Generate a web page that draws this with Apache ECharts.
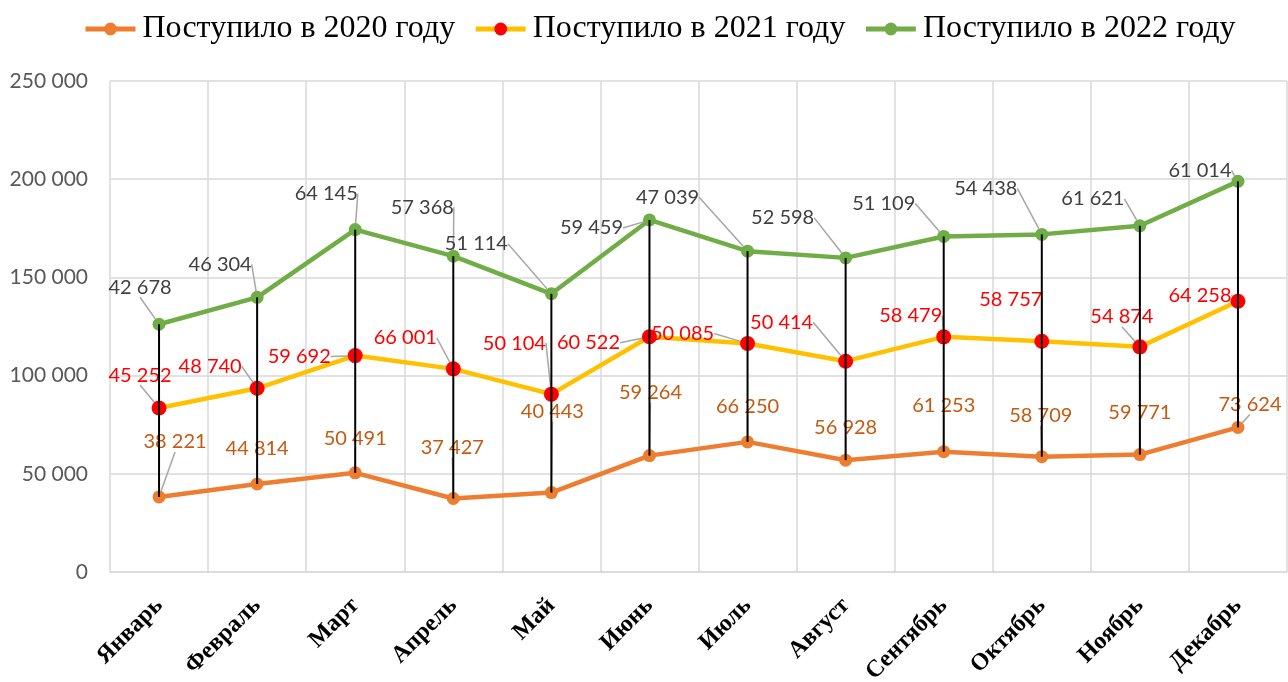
<!DOCTYPE html>
<html>
<head>
<meta charset="utf-8">
<script src="https://cdn.jsdelivr.net/npm/echarts@6/dist/echarts.min.js"></script>
<style>
  html, body { margin: 0; padding: 0; background: #fff; }
  #chart { width: 1288px; height: 682px; }
</style>
</head>
<body>
<div id="chart"></div>
<script>
// данные
const months = ['Январь', 'Февраль', 'Март', 'Апрель', 'Май', 'Июнь', 'Июль', 'Август', 'Сентябрь', 'Октябрь', 'Ноябрь', 'Декабрь']
const y2020 = [38221, 44814, 50491, 37427, 40443, 59264, 66250, 56928, 61253, 58709, 59771, 73624]
const y2021 = [45252, 48740, 59692, 66001, 50104, 60522, 50085, 50414, 58479, 58757, 54874, 64258]
const y2022 = [42678, 46304, 64145, 57368, 51114, 59459, 47039, 52598, 51109, 54438, 61621, 61014]
const names = ['Поступило в 2020 году', 'Поступило в 2021 году', 'Поступило в 2022 году']

// смещения подписей (dx, dy) относительно точки
const off2020 = [[16, -55], [0, -35], [0, -34], [-1, -51], [1, -81], [1, -63], [0, -35], [0, -33], [0, -46], [-1, -41], [0, -42], [12, -23]]
const off2021 = [[-19, -33], [-47, -22], [-56, 1], [-48, -31], [-37, -51], [-61, 6], [-65, -10], [-64, -39], [-33, -21], [-31, -42], [-18, -30], [-38, -6]]
const off2022 = [[-19, -37], [-37, -33], [-29, -36], [-31, -49], [-75, -50], [-58, 8], [-80, -54], [-63, -40], [-60, -33], [-56, -46], [-47, -27], [-38, -11]]

const fmt = v => String(v).replace(/\B(?=(\d{3})+(?!\d))/g, ' ')

const chart = echarts.init(document.getElementById('chart'))

const hiLo = months.map((m, i) => [i, y2020[i], y2020[i] + y2021[i] + y2022[i]])

function lineSeries(name, data, offsets, lineColor, dotColor, dotSize, labelColor) {
  return {
    name: name,
    type: 'line',
    stack: 'total',
    data: data,
    symbol: 'circle',
    symbolSize: dotSize,
    lineStyle: { color: lineColor, width: 4.5 },
    itemStyle: { color: dotColor },
    z: 3,
    label: {
      show: true,
      position: 'inside',
      color: labelColor,
      fontFamily: 'Lato',
      fontSize: 20,
      formatter: p => fmt(p.value)
    },
    labelLine: {
      show: true,
      length2: 0,
      lineStyle: { color: '#A6A6A6', width: 1.5 }
    },
    labelLayout: p => ({ dx: offsets[p.dataIndex][0], dy: offsets[p.dataIndex][1] })
  }
}

chart.setOption({
  backgroundColor: '#fff',
  animation: false,
  legend: {
    data: names,
    top: 8,
    left: 78,
    itemWidth: 50,
    itemHeight: 16,
    itemGap: 18,
    lineStyle: { width: 5 },
    textStyle: { fontFamily: 'Liberation Serif', fontSize: 32, color: '#000', padding: [0, 0, 0, 2] }
  },
  grid: { left: 110, right: 1, top: 81, bottom: 110, outerBoundsMode: 'none' },
  xAxis: {
    type: 'category',
    data: months,
    boundaryGap: true,
    axisLine: { lineStyle: { color: '#D9D9D9', width: 1.5 } },
    axisTick: { show: false },
    splitLine: { show: true, lineStyle: { color: '#D9D9D9', width: 1.5 } },
    axisLabel: {
      rotate: 45,
      margin: 30,
      interval: 0,
      color: '#000',
      fontFamily: 'Liberation Serif',
      fontWeight: 'bold',
      fontSize: 24
    }
  },
  yAxis: {
    type: 'value',
    min: 0,
    max: 250000,
    interval: 50000,
    axisLine: { show: false },
    axisTick: { show: false },
    splitLine: { lineStyle: { color: '#D9D9D9', width: 1.5 } },
    axisLabel: {
      color: '#595959',
      fontFamily: 'Lato',
      fontSize: 21,
      margin: 22,
      formatter: v => fmt(v)
    }
  },
  series: [
    lineSeries(names[0], y2020, off2020, '#ED7D31', '#ED7D31', 13, '#C55A11'),
    lineSeries(names[1], y2021, off2021, '#FFC000', '#FF0000', 15, '#FF0000'),
    lineSeries(names[2], y2022, off2022, '#70AD47', '#70AD47', 13, '#404040'),
    {
      // вертикальные линии от минимума до максимума
      type: 'custom',
      z: 4,
      silent: true,
      data: hiLo,
      encode: { x: 0, y: [1, 2] },
      renderItem: (params, api) => {
        const a = api.coord([api.value(0), api.value(1)])
        const b = api.coord([api.value(0), api.value(2)])
        return {
          type: 'line',
          shape: { x1: a[0], y1: a[1], x2: b[0], y2: b[1] },
          style: { stroke: '#000', lineWidth: 2 }
        }
      }
    }
  ]
})
</script>
</body>
</html>
